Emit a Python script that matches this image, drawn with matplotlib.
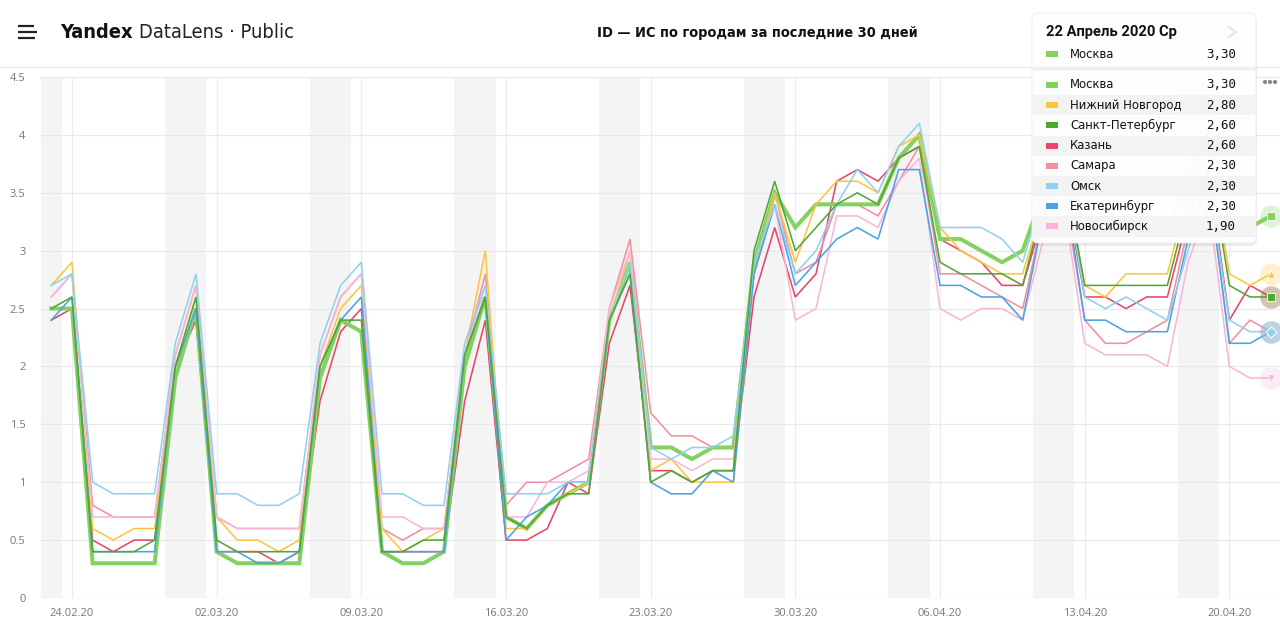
import matplotlib
matplotlib.use('Agg')
import matplotlib.pyplot as plt
import numpy as np
import pandas as pd
from matplotlib.patches import FancyBboxPatch, Rectangle, Circle
from matplotlib import font_manager as fm

# ---------------- data ----------------
dates = pd.date_range('2020-02-23', '2020-04-22', freq='D')

cities = ['Москва', 'Нижний Новгород', 'Санкт-Петербург', 'Казань',
          'Самара', 'Омск', 'Екатеринбург', 'Новосибирск']

moscow = [2.5, 2.5, 0.3, 0.3, 0.3, 0.3, 1.9, 2.5,
          0.4, 0.3, 0.3, 0.3, 0.3, 1.9, 2.4,
          2.3, 0.4, 0.3, 0.3, 0.4, 2.0, 2.6,
          0.7, 0.6, 0.8, 0.9, 1.0, 2.4, 2.9,
          1.3, 1.3, 1.2, 1.3, 1.3, 2.9, 3.5,
          3.2, 3.4, 3.4, 3.4, 3.4, 3.8, 4.0,
          3.1, 3.1, 3.0, 2.9, 3.0, 3.5, 3.8,
          3.2, 3.2, 3.2, 3.2, 3.2, 3.6, 4.0,
          3.3, 3.2, 3.3]
nizhny = [2.7, 2.9, 0.6, 0.5, 0.6, 0.6, 2.0, 2.6,
          0.7, 0.5, 0.5, 0.4, 0.5, 2.0, 2.5,
          2.7, 0.6, 0.4, 0.5, 0.6, 2.1, 3.0,
          0.6, 0.6, 0.8, 0.9, 1.0, 2.4, 3.0,
          1.1, 1.2, 1.0, 1.0, 1.0, 2.8, 3.5,
          2.9, 3.4, 3.6, 3.6, 3.5, 3.9, 4.0,
          3.2, 3.0, 2.9, 2.8, 2.8, 3.4, 3.7,
          2.7, 2.6, 2.8, 2.8, 2.8, 3.5, 3.9,
          2.8, 2.7, 2.8]
spb = [2.5, 2.6, 0.4, 0.4, 0.4, 0.5, 2.0, 2.6,
       0.5, 0.4, 0.4, 0.4, 0.4, 2.0, 2.4,
       2.4, 0.4, 0.4, 0.5, 0.5, 2.1, 2.6,
       0.7, 0.6, 0.8, 0.9, 0.9, 2.4, 2.8,
       1.0, 1.1, 1.0, 1.1, 1.1, 3.0, 3.6,
       3.0, 3.2, 3.4, 3.5, 3.4, 3.8, 3.9,
       2.9, 2.8, 2.8, 2.8, 2.7, 3.4, 3.7,
       2.7, 2.7, 2.7, 2.7, 2.7, 3.4, 3.8,
       2.7, 2.6, 2.6]
kazan = [2.4, 2.5, 0.5, 0.4, 0.5, 0.5, 2.0, 2.4,
         0.4, 0.4, 0.4, 0.3, 0.4, 1.7, 2.3,
         2.5, 0.4, 0.4, 0.4, 0.4, 1.7, 2.4,
         0.5, 0.5, 0.6, 1.0, 0.9, 2.2, 2.7,
         1.1, 1.1, 1.0, 1.1, 1.1, 2.6, 3.2,
         2.6, 2.8, 3.6, 3.7, 3.6, 3.8, 3.9,
         3.1, 3.0, 2.9, 2.7, 2.7, 3.3, 3.6,
         2.6, 2.6, 2.5, 2.6, 2.6, 3.3, 3.7,
         2.4, 2.7, 2.6]
samara = [2.6, 2.8, 0.8, 0.7, 0.7, 0.7, 2.1, 2.7,
          0.7, 0.6, 0.6, 0.6, 0.6, 2.1, 2.6,
          2.8, 0.6, 0.5, 0.6, 0.6, 2.1, 2.8,
          0.8, 1.0, 1.0, 1.1, 1.2, 2.5, 3.1,
          1.6, 1.4, 1.4, 1.3, 1.3, 2.8, 3.5,
          2.8, 2.9, 3.4, 3.4, 3.3, 3.6, 3.9,
          2.8, 2.8, 2.7, 2.6, 2.5, 3.3, 3.5,
          2.4, 2.2, 2.2, 2.3, 2.4, 3.2, 3.6,
          2.2, 2.4, 2.3]
omsk = [2.7, 2.8, 1.0, 0.9, 0.9, 0.9, 2.2, 2.8,
        0.9, 0.9, 0.8, 0.8, 0.9, 2.2, 2.7,
        2.9, 0.9, 0.9, 0.8, 0.8, 2.2, 2.7,
        0.9, 0.9, 0.9, 1.0, 1.0, 2.4, 2.9,
        1.3, 1.2, 1.3, 1.3, 1.4, 2.9, 3.4,
        2.8, 3.0, 3.4, 3.7, 3.5, 3.9, 4.1,
        3.2, 3.2, 3.2, 3.1, 2.9, 3.5, 3.7,
        2.6, 2.5, 2.6, 2.5, 2.4, 3.0, 3.6,
        2.4, 2.3, 2.3]
ekat = [2.4, 2.6, 0.4, 0.4, 0.4, 0.4, 2.0, 2.5,
        0.4, 0.4, 0.3, 0.3, 0.4, 2.0, 2.4,
        2.6, 0.4, 0.4, 0.4, 0.4, 2.1, 2.6,
        0.5, 0.7, 0.8, 1.0, 1.0, 2.4, 2.8,
        1.0, 0.9, 0.9, 1.1, 1.0, 2.8, 3.4,
        2.7, 2.9, 3.1, 3.2, 3.1, 3.7, 3.7,
        2.7, 2.7, 2.6, 2.6, 2.4, 3.3, 3.6,
        2.4, 2.4, 2.3, 2.3, 2.3, 3.1, 3.6,
        2.2, 2.2, 2.3]
novosib = [2.6, 2.8, 0.7, 0.7, 0.7, 0.7, 2.1, 2.7,
           0.7, 0.6, 0.6, 0.6, 0.6, 2.1, 2.6,
           2.8, 0.7, 0.7, 0.6, 0.6, 2.1, 2.7,
           0.7, 0.7, 1.0, 1.0, 1.1, 2.5, 3.0,
           1.2, 1.2, 1.1, 1.2, 1.2, 2.8, 3.4,
           2.4, 2.5, 3.3, 3.3, 3.2, 3.6, 3.8,
           2.5, 2.4, 2.5, 2.5, 2.4, 3.1, 3.4,
           2.2, 2.1, 2.1, 2.1, 2.0, 2.9, 3.4,
           2.0, 1.9, 1.9]

series = [moscow, nizhny, spb, kazan, samara, omsk, ekat, novosib]
colors = ['#84d161', '#fcc53f', '#52a634', '#e8456c',
          '#f2909f', '#8fd2ee', '#4aa3e2', '#f7b6da']
markers = ['s', '^', 's', 'o', 'D', 'D', 'o', 'v']
draw_order = [3, 4, 0, 1, 7, 6, 5, 2]

yticks = [0, 0.5, 1, 1.5, 2, 2.5, 3, 3.5, 4, 4.5]
tick_idx = list(range(1, len(dates), 7))
tooltip_title = '22 Апрель 2020 Ср'

# ---------------- fonts ----------------
def pick_condensed(bold):
    cands = []
    for f in fm.fontManager.ttflist:
        st = str(f.stretch)
        if ('Narrow' in f.name or 'Condensed' in f.name or
                st in ('condensed', 'semi-condensed', 'extra-condensed')):
            if 'Mono' in f.name or 'Serif' in f.name:
                continue
            if f.style != 'normal':
                continue
            w = f.weight if isinstance(f.weight, int) else (700 if 'bold' in str(f.weight) else 400)
            cands.append((abs(w - (700 if bold else 400)), f.fname))
    if cands:
        cands.sort()
        return fm.FontProperties(fname=cands[0][1])
    return fm.FontProperties(family='Roboto', weight='bold' if bold else 'light')


fp_bold = pick_condensed(True)
fp_reg = pick_condensed(False)
fp_tip_title = fm.FontProperties(family='Roboto', weight='bold')

# ---------------- figure ----------------
W, H = 1280, 628
fig = plt.figure(figsize=(W / 100, H / 100), dpi=100)
fig.patch.set_facecolor('white')

x = np.arange(len(dates))
ax = fig.add_axes([40 / W, 1 - 598 / H, 1240 / W, (598 - 77) / H])
ax.set_xlim(-0.547, 59.45)
ax.set_ylim(0, 4.5)

for i, d in enumerate(dates):
    if d.weekday() >= 5:
        ax.axvspan(i - 0.5, i + 0.5, color='#f4f4f4', lw=0, zorder=0)

for v in yticks:
    ax.axhline(v, color='#e8e8e8', lw=0.8, zorder=1)
for i in tick_idx:
    ax.axvline(i, color='#ececec', lw=0.8, zorder=1)

for k in draw_order:
    lw = 2.9 if k == 0 else 1.15
    ax.plot(x, series[k], color=colors[k], lw=lw, zorder=3 + draw_order.index(k),
            solid_joinstyle='miter', clip_on=False)

for k in draw_order:
    ax.scatter([x[-1]], [series[k][-1]], s=260, color=colors[k], alpha=0.25,
               lw=0, zorder=20, clip_on=False)
for k in draw_order:
    ax.scatter([x[-1]], [series[k][-1]], s=30, marker=markers[k], color=colors[k],
               edgecolor='white', lw=0.6, zorder=21, clip_on=False)

for s in ax.spines.values():
    s.set_visible(False)
ax.set_yticks(yticks)
ax.set_yticklabels([f'{v:g}' for v in yticks])
ax.set_xticks(tick_idx)
ax.set_xticklabels([dates[i].strftime('%d.%m.%y') for i in tick_idx])
ax.tick_params(axis='y', length=0, pad=10.5, labelsize=8, labelcolor='#777777')
ax.tick_params(axis='x', length=0, pad=7, labelsize=8, labelcolor='#777777')
for t in ax.get_xticklabels() + ax.get_yticklabels():
    t.set_fontfamily('Open Sans')

# ---------------- overlay (header, tooltip) ----------------
ov = fig.add_axes([0, 0, 1, 1], zorder=10)
ov.set_xlim(0, W)
ov.set_ylim(H, 0)
ov.axis('off')

ov.plot([0, W], [67, 67], color='#ededed', lw=1)

for yy, x2 in [(26, 34), (32, 37), (38, 35)]:
    ov.plot([18, x2], [yy, yy], color='#222222', lw=1.6, solid_capstyle='butt')

renderer = fig.canvas.get_renderer()


def place(xl, y, parts, size):
    cx = xl
    arts = []
    for s, fp, col, gap in parts:
        f = fp.copy()
        f.set_size(size)
        t = ov.text(cx + gap, y, s, fontproperties=f, color=col, va='center', ha='left')
        cx += gap + t.get_window_extent(renderer).width
        arts.append(t)
    return arts, cx - xl


def fit_text(xl, xr, y, parts, max_size):
    size = max_size
    for _ in range(4):
        arts, total = place(xl, y, parts, size)
        new = min(max_size, size * (xr - xl) / total)
        if abs(new - size) < 0.05:
            return arts
        for a in arts:
            a.remove()
        size = new
    arts, _ = place(xl, y, parts, size)
    return arts


fit_text(60, 293, 32, [('Yandex', fp_bold, '#111111', 0),
                       ('DataLens · Public', fp_reg, '#222222', 6)], 23)
fit_text(597, 921, 33, [('ID — ИС по городам за последние 30 дней', fp_bold,
                         '#111111', 0)], 12)

for xx in [1265, 1270, 1275]:
    ov.add_patch(Circle((xx, 82), 1.4, color='#888888'))

# tooltip
tx0, ty0, tw, th = 1032, 13, 224, 230
ov.add_patch(FancyBboxPatch((tx0 + 1, ty0 + 3), tw, th,
                            boxstyle='round,pad=0,rounding_size=6',
                            fc='#000000', ec='none', alpha=0.07))
ov.add_patch(FancyBboxPatch((tx0, ty0), tw, th,
                            boxstyle='round,pad=0,rounding_size=6',
                            fc='white', ec='#ececec', lw=0.6, alpha=0.96))
fit_text(1046, 1178, 32, [(tooltip_title, fp_tip_title, '#111111', 0)], 11)
ov.plot([1229, 1236, 1229], [27, 32, 37], color='#e6e6e6', lw=1.5)
ov.plot([tx0, tx0 + tw], [69, 69], color='#eaeaea', lw=1)


def row(yc, k, shade):
    if shade:
        ov.add_patch(Rectangle((tx0, yc - 10), tw, 20.2, fc='#f3f3f3', ec='none'))
    ov.add_patch(Rectangle((1046, yc - 3), 12, 6, fc=colors[k], ec='none'))
    ov.text(1070, yc, cities[k], fontsize=8.4, family='DejaVu Sans',
            color='#111111', va='center', ha='left')
    ov.text(1236, yc, f'{series[k][-1]:.2f}'.replace('.', ','), fontsize=9,
            family='DejaVu Sans Mono', color='#111111', va='center', ha='right')


row(54, 0, False)
for r, k in enumerate(range(len(cities))):
    row(85 + r * 20.2, k, r % 2 == 1)

fig.savefig('out.png', dpi=100, facecolor='white')
